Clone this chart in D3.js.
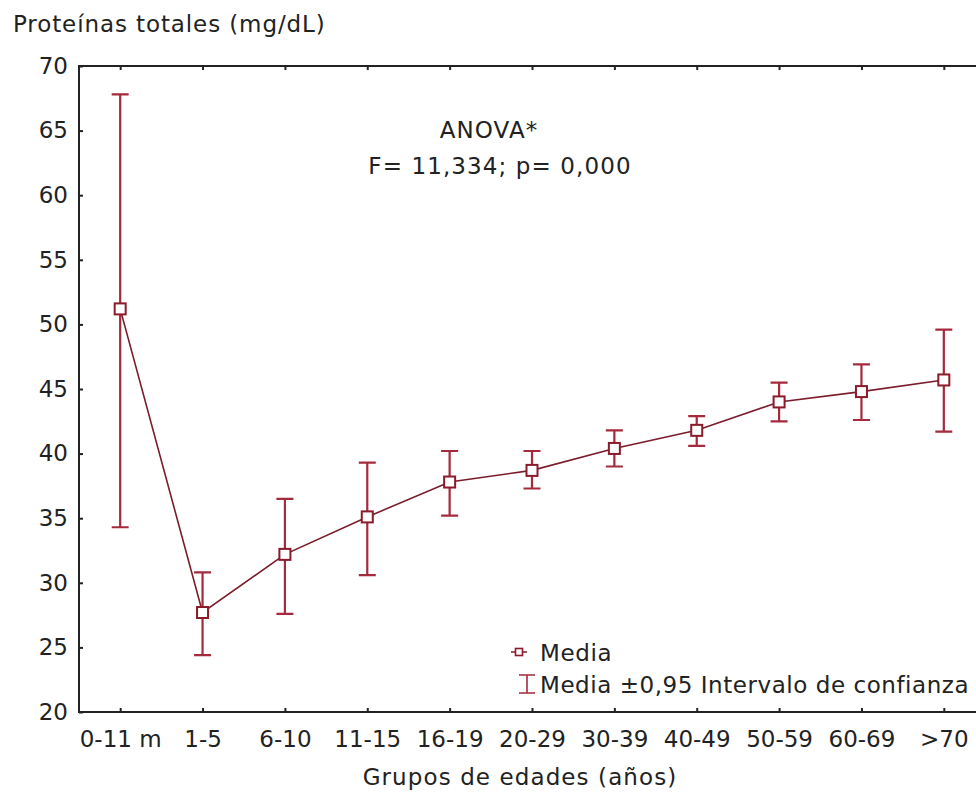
<!DOCTYPE html>
<html>
<head>
<meta charset="utf-8">
<script src="https://cdn.jsdelivr.net/npm/d3@7"></script>
<style>
  body { margin: 0; background: #fff; }
  svg { display: block; font-family: "DejaVu Sans", Verdana, sans-serif; }
</style>
</head>
<body>
<svg width="976" height="798"></svg>
<script>
const groups = ["0-11 m", "1-5", "6-10", "11-15", "16-19", "20-29", "30-39", "40-49", "50-59", "60-69", ">70"];
const means = [51.2, 27.7, 32.2, 35.1, 37.8, 38.7, 40.4, 41.8, 44.0, 44.8, 45.7];
const lower = [34.3, 24.4, 27.6, 30.6, 35.2, 37.3, 39.0, 40.6, 42.5, 42.6, 41.7];
const upper = [67.8, 30.8, 36.5, 39.3, 40.2, 40.2, 41.8, 42.9, 45.5, 46.9, 49.6];
const yTicks = [20, 25, 30, 35, 40, 45, 50, 55, 60, 65, 70];

const data = groups.map((g, i) => ({ group: g, mean: means[i], lo: lower[i], hi: upper[i] }));

const svg = d3.select("svg");
const plot = { left: 79, top: 66, right: 985, bottom: 712 };
const fontSize = 23;
const spacing = 0.9;
const barColor = "#a52a3c";
const lineColor = "#7a1c2a";

const xScale = d3.scalePoint()
  .domain(groups)
  .range([plot.left, plot.right])
  .padding(0.5);

const yScale = d3.scaleLinear()
  .domain([20, 70])
  .range([plot.bottom, plot.top]);

// axes (ticks pointing inward)
const yAxisG = svg.append("g")
  .attr("transform", `translate(${plot.left},0)`)
  .call(d3.axisLeft(yScale).tickValues(yTicks).tickSize(-4).tickPadding(11).tickFormat(d3.format("d")));

const xAxisG = svg.append("g")
  .attr("transform", `translate(0,${plot.bottom})`)
  .call(d3.axisBottom(xScale).tickSize(-4).tickPadding(19));

const topAxisG = svg.append("g")
  .attr("transform", `translate(0,${plot.top})`)
  .call(d3.axisTop(xScale).tickSize(-4).tickFormat(""));

[yAxisG, xAxisG, topAxisG].forEach((g) => {
  g.select(".domain").remove();
  g.selectAll(".tick line").attr("stroke", "#222").attr("stroke-width", 2);
  g.selectAll("text").attr("font-size", fontSize).attr("fill", "#222").attr("font-family", "DejaVu Sans, sans-serif");
});

// frame
svg.append("rect")
  .attr("x", plot.left)
  .attr("y", plot.top)
  .attr("width", plot.right - plot.left)
  .attr("height", plot.bottom - plot.top)
  .attr("fill", "none")
  .attr("stroke", "#222")
  .attr("stroke-width", 2);

// error bars
const capW = 17;
const bars = svg.append("g").attr("stroke", barColor).attr("stroke-width", 2.2).attr("fill", "none");
bars.selectAll(".bar")
  .data(data)
  .enter()
  .append("path")
  .attr("d", (d) => {
    const x = xScale(d.group);
    const y1 = yScale(d.hi);
    const y2 = yScale(d.lo);
    return `M${x - capW / 2},${y1}H${x + capW / 2}M${x},${y1}V${y2}M${x - capW / 2},${y2}H${x + capW / 2}`;
  });

// mean line
const lineGenerator = d3.line()
  .x((d) => xScale(d.group))
  .y((d) => yScale(d.mean));

svg.append("path")
  .attr("d", lineGenerator(data))
  .attr("fill", "none")
  .attr("stroke", lineColor)
  .attr("stroke-width", 1.6);

// mean markers
const sq = 11;
svg.selectAll(".mean")
  .data(data)
  .enter()
  .append("rect")
  .attr("x", (d) => xScale(d.group) - sq / 2)
  .attr("y", (d) => yScale(d.mean) - sq / 2)
  .attr("width", sq)
  .attr("height", sq)
  .attr("fill", "#fff")
  .attr("stroke", "#8b1a2a")
  .attr("stroke-width", 2);

// titles
svg.append("text")
  .attr("x", 13)
  .attr("y", 32)
  .attr("font-size", fontSize)
  .attr("letter-spacing", spacing)
  .attr("fill", "#222")
  .text("Proteínas totales (mg/dL)");

svg.append("text")
  .attr("x", 520)
  .attr("y", 785)
  .attr("text-anchor", "middle")
  .attr("font-size", fontSize)
  .attr("letter-spacing", 1.1)
  .attr("fill", "#222")
  .text("Grupos de edades (años)");

// annotation
svg.append("text")
  .attr("x", 489)
  .attr("y", 138)
  .attr("text-anchor", "middle")
  .attr("font-size", fontSize)
  .attr("letter-spacing", 1.1)
  .attr("fill", "#222")
  .text("ANOVA*");

svg.append("text")
  .attr("x", 500)
  .attr("y", 174)
  .attr("text-anchor", "middle")
  .attr("font-size", fontSize)
  .attr("letter-spacing", 1.1)
  .attr("fill", "#222")
  .text("F= 11,334; p= 0,000");

// legend
const legend = svg.append("g");
legend.append("path")
  .attr("d", "M511,652H527")
  .attr("stroke", lineColor)
  .attr("stroke-width", 1.5);
legend.append("rect")
  .attr("x", 515.5)
  .attr("y", 648.5)
  .attr("width", 7)
  .attr("height", 7)
  .attr("fill", "#fff")
  .attr("stroke", "#8b1a2a")
  .attr("stroke-width", 1.6);
legend.append("text")
  .attr("x", 540)
  .attr("y", 661)
  .attr("font-size", fontSize)
  .attr("letter-spacing", 0.6)
  .attr("fill", "#222")
  .text("Media");

legend.append("path")
  .attr("d", "M519,675H535M527,675V693M519,693H535")
  .attr("stroke", barColor)
  .attr("stroke-width", 1.6)
  .attr("fill", "none");
legend.append("text")
  .attr("x", 540)
  .attr("y", 693)
  .attr("font-size", fontSize)
  .attr("letter-spacing", 0.55)
  .attr("fill", "#222")
  .text("Media ±0,95 Intervalo de confianza");
</script>
</body>
</html>
